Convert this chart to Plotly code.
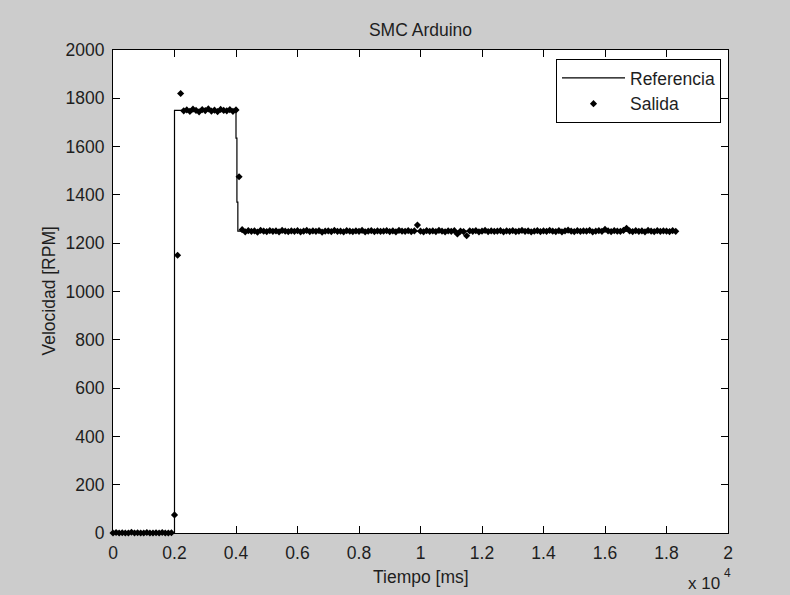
import plotly.graph_objects as go

# ---------------- data ----------------
periodo_ms = 100  # sampling period of the measured output

salida = [
    # 0 - 1900 ms
    0, 2, 0, 1, 0, 0, 3, 0, 1, 0,
    0, 2, 0, 0, 1, 0, 2, 0, 0, 1,
    # 2000 - 2900 ms
    75, 1150, 1820, 1748, 1752, 1746, 1755, 1750, 1744, 1753,
    # 3000 - 3900 ms
    1749, 1756, 1747, 1751, 1745, 1754, 1750, 1748, 1753, 1746,
    # 4000 - 4900 ms
    1752, 1475, 1256, 1247, 1252, 1249, 1251, 1246, 1253, 1250,
    # 5000
    1248, 1252, 1249, 1251, 1247, 1253, 1250, 1248, 1251, 1249,
    # 6000
    1252, 1247, 1250, 1253, 1248, 1251, 1249, 1252, 1246, 1250,
    # 7000
    1251, 1248, 1253, 1249, 1250, 1247, 1252, 1250, 1248, 1251,
    # 8000
    1249, 1253, 1247, 1250, 1252, 1248, 1251, 1249, 1250, 1252,
    # 9000
    1248, 1251, 1247, 1253, 1250, 1249, 1252, 1248, 1251, 1275,
    # 10000
    1250, 1247, 1252, 1249, 1251, 1248, 1253, 1250, 1247, 1251,
    # 11000
    1249, 1252, 1238, 1250, 1248, 1231, 1251, 1249, 1252, 1247,
    # 12000
    1250, 1253, 1248, 1251, 1249, 1250, 1252, 1247, 1251, 1249,
    # 13000
    1252, 1248, 1250, 1253, 1249, 1251, 1247, 1250, 1252, 1248,
    # 14000
    1251, 1249, 1253, 1250, 1248, 1252, 1247, 1251, 1254, 1250,
    # 15000
    1248, 1252, 1249, 1251, 1250, 1253, 1247, 1250, 1252, 1249,
    # 16000
    1257, 1251, 1248, 1252, 1250, 1249, 1253, 1262, 1251, 1248,
    # 17000
    1252, 1249, 1251, 1247, 1253, 1250, 1248, 1252, 1249, 1251,
    # 18000
    1250, 1248, 1252, 1249,
]
tiempo = [k * periodo_ms for k in range(len(salida))]

ref_tiempo = [0, 2000, 2000, 4000, 4000, 4030, 4030, 4060, 4060, 18300]
ref_valor = [0, 0, 1750, 1750, 1635, 1635, 1370, 1370, 1250, 1250]

x_tickvals = [0, 2000, 4000, 6000, 8000, 10000, 12000, 14000, 16000, 18000, 20000]
x_ticktext = ["0", "0.2", "0.4", "0.6", "0.8", "1", "1.2", "1.4", "1.6", "1.8", "2"]
y_tickvals = [0, 200, 400, 600, 800, 1000, 1200, 1400, 1600, 1800, 2000]

# ---------------- figure ----------------
FONT = "Liberation Sans, Arial, sans-serif"
TXT = "#1e1e1e"
FS = 17.5

fig = go.Figure()
fig.add_trace(go.Scatter(
    x=ref_tiempo, y=ref_valor, mode="lines", name="Referencia",
    line=dict(color="black", width=1.2), cliponaxis=False,
))
fig.add_trace(go.Scatter(
    x=tiempo, y=salida, mode="markers", name="Salida",
    marker=dict(symbol="diamond", size=5.5, color="black", line=dict(width=0)),
    cliponaxis=False,
))

L, R, T, B = 113, 62, 50, 62
W, H = 790, 595
pw, ph = W - L - R, H - T - B

fig.update_layout(
    width=W, height=H,
    margin=dict(l=L, r=R, t=T, b=B, autoexpand=False),
    paper_bgcolor="#cccccc",
    plot_bgcolor="white",
    font=dict(family=FONT, size=FS, color=TXT),
    showlegend=True,
    legend=dict(
        x=(721 - L) / pw, xanchor="right",
        y=(H - B - 59) / ph, yanchor="top",
        bgcolor="white", bordercolor="black", borderwidth=1,
        font=dict(family=FONT, size=FS, color=TXT),
        itemwidth=63, tracegroupgap=0,
    ),
    title=dict(
        text="SMC Arduino", x=(L + pw / 2) / W, xanchor="center",
        y=1 - 30 / H, yanchor="middle",
        font=dict(family=FONT, size=FS, color=TXT),
    ),
)

axis_common = dict(
    showline=True, linecolor="black", linewidth=1, mirror="ticks",
    ticks="inside", ticklen=7, tickwidth=1, tickcolor="black",
    showgrid=False, zeroline=False,
    tickfont=dict(family=FONT, size=FS, color=TXT),
)
fig.update_xaxes(range=[0, 20000], tickmode="array", tickvals=x_tickvals,
                 ticktext=x_ticktext, ticklabelstandoff=4, **axis_common)
fig.update_yaxes(range=[0, 2000], tickmode="array", tickvals=y_tickvals,
                 ticklabelstandoff=4, **axis_common)

fig.add_annotation(text="Tiempo [ms]", xref="paper", yref="paper",
                   x=0.5, y=(H - B - 577) / ph, xanchor="center", yanchor="middle",
                   showarrow=False, font=dict(family=FONT, size=FS, color=TXT))
fig.add_annotation(text="Velocidad [RPM]", xref="paper", yref="paper",
                   x=(48 - L) / pw, y=0.5, xanchor="center", yanchor="middle",
                   textangle=-90, showarrow=False,
                   font=dict(family=FONT, size=FS, color=TXT))
fig.add_annotation(text="x 10", xref="paper", yref="paper",
                   x=(703.5 - L) / pw, y=(H - B - 583.5) / ph,
                   xanchor="center", yanchor="middle", showarrow=False,
                   font=dict(family=FONT, size=17, color=TXT))
fig.add_annotation(text="4", xref="paper", yref="paper",
                   x=(727 - L) / pw, y=(H - B - 573) / ph,
                   xanchor="center", yanchor="middle", showarrow=False,
                   font=dict(family=FONT, size=12, color=TXT))

fig.write_html("out.html")
